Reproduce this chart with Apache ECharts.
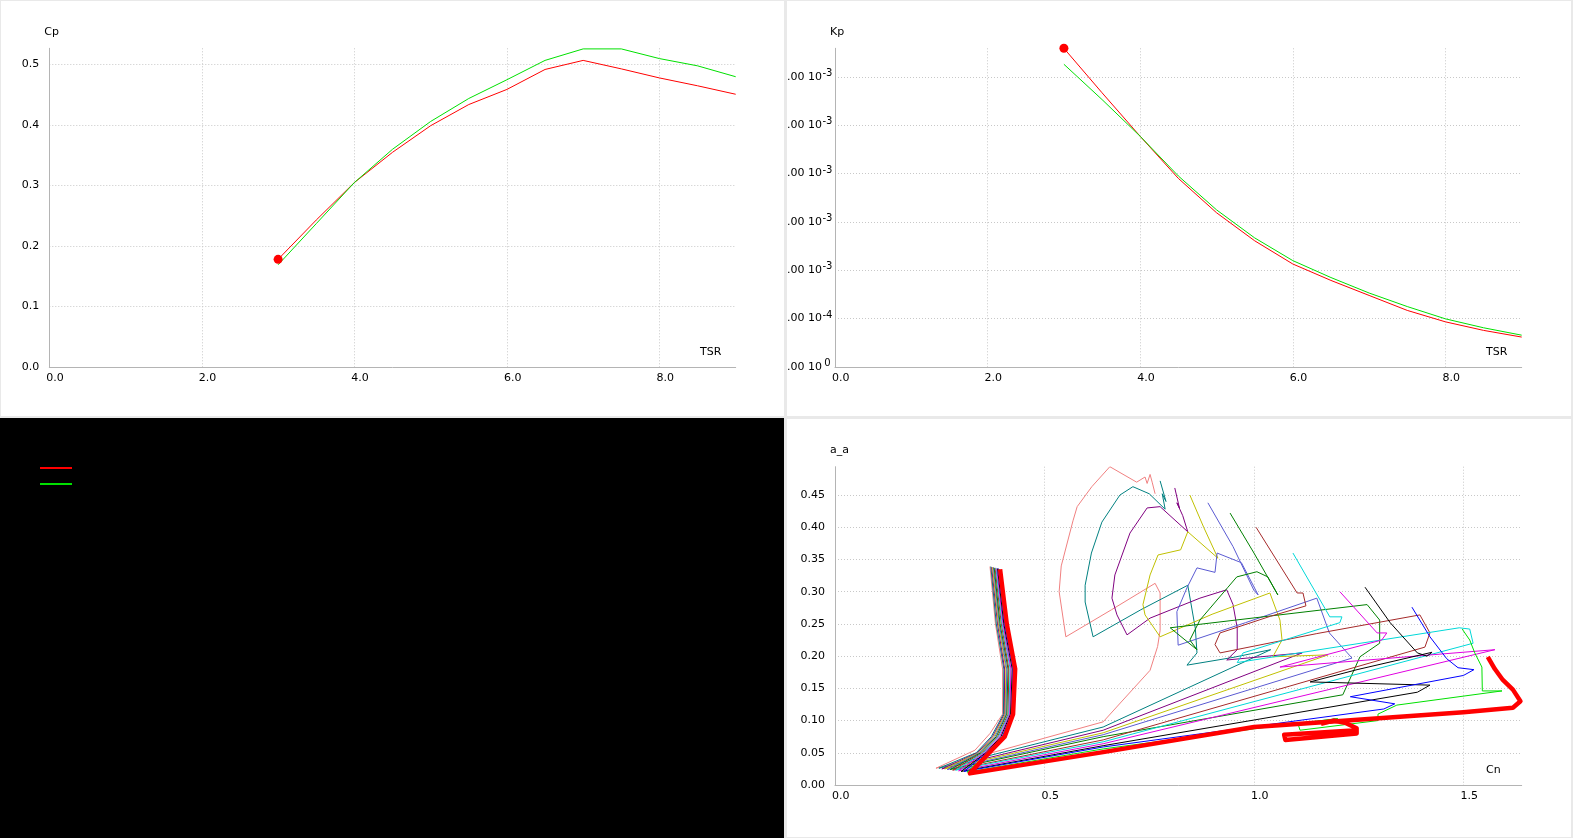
<!DOCTYPE html>
<html><head><meta charset="utf-8">
<script src="https://cdn.jsdelivr.net/npm/echarts@6/dist/echarts.min.js"></script>
<style>
html,body{margin:0;padding:0;background:#e9e9e9;width:1573px;height:838px;overflow:hidden;}
.p{position:absolute;background:#fff;overflow:hidden;}
</style></head><body>
<div id="tl" class="p" style="left:1px;top:1px;width:783px;height:415px"></div>
<div id="tr" class="p" style="left:787px;top:1px;width:784px;height:415px"></div>
<div id="bl" class="p" style="left:0;top:418px;width:784px;height:420px;background:#000"></div>
<div id="br" class="p" style="left:787px;top:419px;width:784px;height:418px"></div>
<script>
// ---------- data ----------
const tsr = [3.0,3.5,4.0,4.5,5.0,5.5,6.0,6.5,7.0,7.5,8.0,8.5,9.0];
const cpSim1 = [0.178,0.243,0.305,0.355,0.399,0.434,0.459,0.492,0.507,0.493,0.478,0.465,0.451];
const cpSim2 = [0.169,0.237,0.305,0.360,0.406,0.444,0.475,0.507,0.526,0.526,0.510,0.498,0.480];
const kpSim1 = [0.00659,0.00567,0.00477,0.00390,0.00319,0.00261,0.00213,0.00179,0.00148,0.00117,0.000934,0.000757,0.000619];
const kpSim2 = [0.00626,0.00553,0.00477,0.00395,0.00325,0.00267,0.00220,0.00185,0.00153,0.00125,0.000996,0.000811,0.000658];
const kpTickMant = ['0.00','10.00','2.00','3.00','4.00','5.00','6.00'];
const kpTickExp  = ['0','-4','-3','-3','-3','-3','-3'];
const simNames = ['Simulation 1','Simulation 2'];
const simColors = ['#ff0000','#00e000'];

// a_a vs Cn curves, one per TSR
const aaTsr90 = [[0.764,0.452],[0.757,0.470],[0.752,0.482],[0.745,0.468],[0.740,0.478],[0.720,0.470],[0.656,0.494],[0.613,0.463],[0.578,0.432],[0.568,0.410],[0.540,0.340],[0.535,0.300],[0.551,0.230],[0.660,0.272],[0.764,0.313],[0.776,0.298],[0.776,0.240],[0.770,0.215],[0.752,0.178],[0.640,0.098],[0.241,0.026],[0.334,0.054],[0.370,0.080],[0.400,0.110],[0.400,0.180],[0.383,0.250],[0.370,0.339]];
const aaTsr85 = [[0.776,0.472],[0.790,0.440],[0.781,0.452],[0.788,0.428],[0.750,0.452],[0.711,0.463],[0.680,0.450],[0.637,0.408],[0.612,0.360],[0.597,0.310],[0.597,0.284],[0.616,0.230],[0.730,0.272],[0.842,0.310],[0.860,0.243],[0.864,0.205],[0.840,0.186],[0.950,0.198],[1.040,0.210],[0.640,0.090],[0.248,0.026],[0.337,0.050],[0.373,0.075],[0.402,0.110],[0.403,0.180],[0.385,0.250],[0.372,0.339]];
const aaTsr80 = [[0.811,0.461],[0.822,0.430],[0.816,0.438],[0.830,0.418],[0.842,0.393],[0.776,0.432],[0.745,0.430],[0.704,0.391],[0.668,0.326],[0.661,0.290],[0.673,0.264],[0.697,0.233],[0.752,0.259],[0.871,0.290],[0.935,0.303],[0.950,0.280],[0.960,0.244],[0.960,0.210],[0.935,0.194],[1.115,0.205],[0.640,0.085],[0.255,0.025],[0.340,0.050],[0.376,0.075],[0.404,0.110],[0.405,0.180],[0.388,0.250],[0.374,0.338]];
const aaTsr75 = [[0.847,0.450],[0.880,0.400],[0.914,0.352],[0.842,0.393],[0.825,0.365],[0.771,0.357],[0.752,0.326],[0.735,0.280],[0.740,0.264],[0.776,0.230],[0.900,0.265],[1.038,0.298],[1.062,0.256],[1.067,0.225],[1.045,0.199],[1.177,0.202],[0.640,0.081],[0.262,0.025],[0.343,0.050],[0.379,0.075],[0.406,0.110],[0.408,0.180],[0.390,0.250],[0.376,0.338]];
const aaTsr70 = [[0.890,0.438],[0.950,0.370],[1.000,0.302],[1.010,0.295],[0.970,0.345],[0.912,0.360],[0.907,0.330],[0.864,0.337],[0.840,0.306],[0.816,0.269],[0.819,0.217],[0.980,0.252],[1.150,0.290],[1.180,0.236],[1.234,0.197],[0.640,0.078],[0.268,0.024],[0.345,0.050],[0.382,0.075],[0.408,0.110],[0.410,0.180],[0.392,0.250],[0.378,0.338]];
const aaTsr65 = [[0.943,0.422],[1.000,0.360],[1.057,0.295],[1.033,0.323],[1.007,0.331],[0.959,0.323],[0.938,0.307],[0.871,0.256],[0.847,0.225],[0.864,0.210],[0.800,0.244],[1.270,0.280],[1.300,0.256],[1.300,0.220],[1.253,0.199],[1.212,0.140],[0.640,0.075],[0.275,0.024],[0.348,0.050],[0.385,0.075],[0.410,0.110],[0.413,0.180],[0.394,0.250],[0.380,0.337]];
const aaTsr60 = [[1.005,0.400],[1.103,0.298],[1.117,0.298],[1.124,0.278],[1.040,0.262],[0.919,0.236],[0.907,0.218],[0.919,0.205],[1.150,0.235],[1.396,0.264],[1.420,0.236],[1.408,0.214],[0.640,0.070],[0.281,0.023],[0.351,0.050],[0.388,0.075],[0.413,0.110],[0.415,0.180],[0.397,0.250],[0.382,0.337]];
const aaTsr55 = [[1.093,0.360],[1.181,0.261],[1.210,0.261],[1.205,0.252],[0.974,0.205],[0.960,0.190],[1.490,0.244],[1.515,0.242],[1.523,0.220],[0.640,0.067],[0.288,0.023],[0.354,0.050],[0.390,0.075],[0.415,0.110],[0.418,0.180],[0.399,0.250],[0.384,0.337]];
const aaTsr50 = [[1.205,0.300],[1.294,0.236],[1.317,0.236],[1.305,0.225],[1.062,0.183],[1.575,0.210],[0.640,0.064],[0.295,0.022],[0.357,0.050],[0.393,0.075],[0.417,0.110],[0.420,0.180],[0.401,0.250],[0.386,0.336]];
const aaTsr45 = [[1.265,0.307],[1.325,0.252],[1.390,0.205],[1.413,0.200],[1.425,0.206],[1.246,0.179],[1.134,0.160],[1.420,0.155],[1.390,0.144],[0.640,0.061],[0.301,0.021],[0.360,0.050],[0.396,0.075],[0.419,0.110],[0.423,0.180],[0.403,0.250],[0.388,0.336]];
const aaTsr40 = [[1.377,0.276],[1.420,0.230],[1.460,0.196],[1.487,0.182],[1.525,0.179],[1.500,0.170],[1.230,0.137],[1.336,0.126],[1.310,0.118],[0.640,0.059],[0.308,0.021],[0.362,0.050],[0.399,0.075],[0.421,0.110],[0.425,0.180],[0.405,0.250],[0.390,0.336]];
const aaTsr35 = [[1.497,0.242],[1.515,0.225],[1.527,0.205],[1.544,0.183],[1.545,0.146],[1.592,0.146],[1.341,0.124],[1.296,0.110],[1.296,0.100],[1.110,0.085],[1.105,0.095],[1.200,0.103],[1.080,0.094],[0.640,0.056],[0.315,0.020],[0.365,0.050],[0.402,0.075],[0.423,0.110],[0.428,0.180],[0.408,0.250],[0.392,0.335]];
const aaTsr30 = [[1.558,0.199],[1.575,0.180],[1.594,0.163],[1.618,0.148],[1.636,0.130],[1.618,0.120],[1.500,0.113],[1.180,0.098],[1.000,0.090],[0.640,0.051],[0.322,0.018],[0.368,0.050],[0.405,0.075],[0.425,0.110],[0.430,0.180],[0.410,0.250],[0.394,0.335]];
const aaTsr30Loop = [[1.160,0.095],[1.190,0.100],[1.220,0.096],[1.245,0.088],[1.245,0.080],[1.075,0.070],[1.072,0.078],[1.245,0.085]];

const aaCurves = [aaTsr90,aaTsr85,aaTsr80,aaTsr75,aaTsr70,aaTsr65,aaTsr60,aaTsr55,aaTsr50,aaTsr45,aaTsr40,aaTsr35,aaTsr30,aaTsr30Loop];
const aaNames  = ['TSR 9.0','TSR 8.5','TSR 8.0','TSR 7.5','TSR 7.0','TSR 6.5','TSR 6.0','TSR 5.5','TSR 5.0','TSR 4.5','TSR 4.0','TSR 3.5','TSR 3.0','TSR 3.0'];
const aaColors = ['#f08080','#008080','#800080','#c0c000','#5a5ad2','#008000','#a52a2a','#00d8d8','#e000e0','#000000','#0000ff','#00e000','#ff0000','#ff0000'];
const aaWidths = [1,1,1,1,1,1,1,1,1,1,1,1,4.5,4.5];

// ---------- helpers ----------
const FONT = 'DejaVu Sans';
const GRIDLINE = {color:'#c8c8c8', type:[1,2], width:1};
function xAx(max, interval, dec, name){
  return {type:'value', min:0, max:max, interval:interval, name:name, nameLocation:'end', nameGap:-35.7,
    nameTextStyle:{color:'#000', fontFamily:FONT, fontSize:11, verticalAlign:'bottom', padding:[0,0,9,0]},
    axisLine:{show:true, onZero:false, lineStyle:{color:'#b4b4b4', width:1}},
    axisTick:{show:false},
    axisLabel:{color:'#000', fontFamily:FONT, fontSize:11, margin:6, align:'left', padding:[0,0,0,-3],
      showMaxLabel:false, formatter:v=>v.toFixed(dec)},
    splitLine:{show:true, showMinLine:false, showMaxLine:false, lineStyle:GRIDLINE}};
}
function yAx(max, interval, fmt, name, margin, rich){
  const lab = {color:'#000', fontFamily:FONT, fontSize:11, margin:margin, showMaxLabel:false, formatter:fmt};
  if (rich) lab.rich = rich;
  return {type:'value', min:0, max:max, interval:interval, name:name, nameLocation:'end', nameGap:11,
    nameTextStyle:{color:'#000', fontFamily:FONT, fontSize:11, align:'left', padding:[0,0,0,-5]},
    axisLine:{show:true, onZero:false, lineStyle:{color:'#b4b4b4', width:1}},
    axisTick:{show:false},
    axisLabel:lab,
    splitLine:{show:true, showMinLine:false, showMaxLine:false, lineStyle:GRIDLINE}};
}
function simSeries(ys){
  return ys.map((arr,k)=>({type:'line', name:simNames[k], symbol:'none', showSymbol:true, silent:true,
    lineStyle:{color:simColors[k], width:1}, itemStyle:{color:simColors[k]},
    data: tsr.map((x,i)=> (k===0 && i===0) ? {value:[x,arr[i]], symbol:'circle', symbolSize:9} : [x,arr[i]])}));
}
function safe(fn){ try { fn(); } catch(e) { console.error(e); } }

// ---------- Cp chart ----------
safe(()=>echarts.init(document.getElementById('tl')).setOption({
  animation:false,
  grid:{left:48.3, right:48.3, top:47.3, bottom:49, containLabel:false, outerBoundsMode:'none'},
  xAxis: xAx(9, 2, 1, 'TSR'),
  yAxis: yAx(0.527, 0.1, v=>v.toFixed(1), 'Cp', 10),
  series: simSeries([cpSim1, cpSim2])
}));

// ---------- Kp chart ----------
safe(()=>echarts.init(document.getElementById('tr')).setOption({
  animation:false,
  grid:{left:48, right:49.3, top:47.3, bottom:49, containLabel:false, outerBoundsMode:'none'},
  xAxis: xAx(9, 2, 1, 'TSR'),
  yAxis: yAx(0.00659, 0.001, v=>{const i=Math.round(v/0.001); return '{b|'+kpTickMant[i]+' 10}{s|'+kpTickExp[i]+'}';}, 'Kp', 3,
    {b:{fontFamily:FONT, fontSize:11, color:'#000', lineHeight:17, verticalAlign:'middle'},
     s:{fontFamily:FONT, fontSize:10, color:'#000', lineHeight:11, verticalAlign:'top', width:9, align:'left', padding:[0,0,0,1]}}),
  series: simSeries([kpSim1, kpSim2])
}));

// ---------- a_a vs Cn chart ----------
safe(()=>echarts.init(document.getElementById('br')).setOption({
  animation:false,
  grid:{left:48, right:49.3, top:47.7, bottom:52, containLabel:false, outerBoundsMode:'none'},
  xAxis: xAx(1.639, 0.5, 1, 'Cn'),
  yAxis: yAx(0.494, 0.05, v=>v.toFixed(2), 'a_a', 10),
  series: aaCurves.map((c,k)=>({type:'line', name:aaNames[k], symbol:'none', silent:true,
    lineStyle:{color:aaColors[k], width:aaWidths[k], join:'round'}, itemStyle:{color:aaColors[k]},
    data:c}))
}));

// ---------- legend panel ----------
safe(()=>echarts.init(document.getElementById('bl')).setOption({
  animation:false, backgroundColor:'#000',
  grid:{left:-100, top:-100, width:10, height:10, show:false},
  xAxis:{type:'value', show:false}, yAxis:{type:'value', show:false},
  legend:{left:35, top:44, orient:'vertical', icon:'rect', itemWidth:32, itemHeight:2, itemGap:14,
    selectedMode:false, formatter:()=>'', textStyle:{fontSize:1},
    data:simNames},
  series: simNames.map((n,k)=>({type:'line', name:n, data:[], itemStyle:{color:simColors[k]}, lineStyle:{color:simColors[k]}}))
}));
</script>
</body></html>
